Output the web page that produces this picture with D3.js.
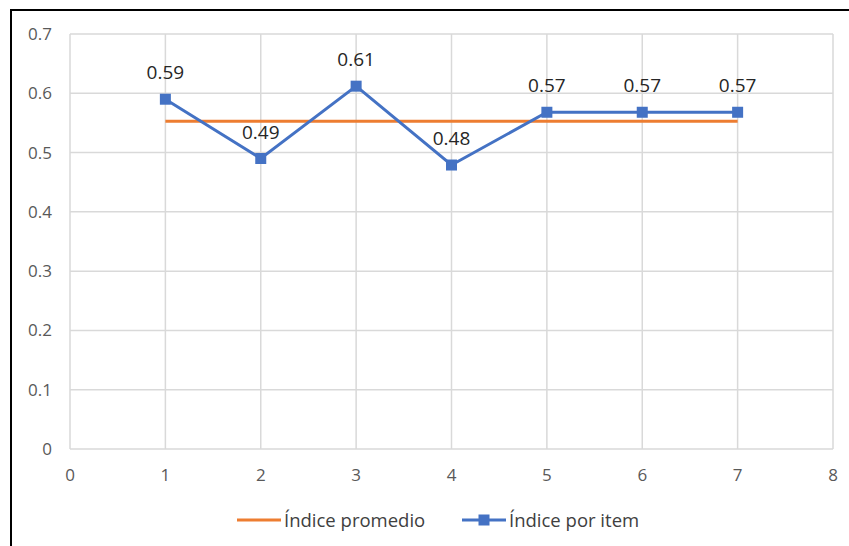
<!DOCTYPE html>
<html>
<head>
<meta charset="utf-8">
<script src="https://cdn.jsdelivr.net/npm/d3@7"></script>
<style>
  body { margin: 0; background: #fff; }
  svg text { font-family: "Open Sans", "Noto Sans", sans-serif; }
</style>
</head>
<body>
<svg id="chart" width="849" height="546"></svg>
<script>
// data
const items = [1, 2, 3, 4, 5, 6, 7];
const itemIndex = [0.59, 0.49, 0.612, 0.479, 0.568, 0.568, 0.568];
const itemLabels = ["0.59", "0.49", "0.61", "0.48", "0.57", "0.57", "0.57"];
const avgIndex = [0.553, 0.553, 0.553, 0.553, 0.553, 0.553, 0.553];
const xTicks = [0, 1, 2, 3, 4, 5, 6, 7, 8];
const yTicks = [0, 0.1, 0.2, 0.3, 0.4, 0.5, 0.6, 0.7];
const seriesNames = ["Índice promedio", "Índice por item"];

const svg = d3.select("#chart");
const blue = "#4472c4", orange = "#ed7d31";

// frame (top and left edges only visible)
svg.append("line").attr("x1", 11).attr("x2", 849).attr("y1", 10).attr("y2", 10)
  .attr("stroke", "#000").attr("stroke-width", 2);
svg.append("line").attr("x1", 11).attr("x2", 11).attr("y1", 9).attr("y2", 546)
  .attr("stroke", "#000").attr("stroke-width", 2);

const x = d3.scaleLinear().domain([0, 8]).range([70, 833]);
const y = d3.scaleLinear().domain([0, 0.7]).range([449, 34]);

// gridlines
const grid = svg.append("g");
grid.selectAll("line.h").data(yTicks).enter().append("line")
  .attr("x1", 70).attr("x2", 833)
  .attr("y1", d => y(d)).attr("y2", d => y(d))
  .attr("stroke", "#d9d9d9").attr("stroke-width", 1.5);
grid.selectAll("line.v").data(xTicks).enter().append("line")
  .attr("x1", d => x(d)).attr("x2", d => x(d))
  .attr("y1", y(0.7)).attr("y2", y(0))
  .attr("stroke", "#d9d9d9").attr("stroke-width", 1.5);

// axes labels
svg.append("g").selectAll("text").data(yTicks).enter().append("text")
  .attr("x", 52).attr("y", d => y(d) + 6)
  .attr("text-anchor", "end").attr("font-size", 17).attr("fill", "#595959")
  .text(d => d3.format("")(d));
svg.append("g").selectAll("text").data(xTicks).enter().append("text")
  .attr("x", d => x(d)).attr("y", y(0) + 32)
  .attr("text-anchor", "middle").attr("font-size", 17).attr("fill", "#595959")
  .text(d => d);

// average line
const line = d3.line().x((d, i) => x(items[i])).y(d => y(d));
svg.append("path").datum(avgIndex).attr("d", line)
  .attr("fill", "none").attr("stroke", orange).attr("stroke-width", 3);

// item index line + markers
svg.append("path").datum(itemIndex).attr("d", line)
  .attr("fill", "none").attr("stroke", blue).attr("stroke-width", 3);
svg.append("g").selectAll("rect").data(itemIndex).enter().append("rect")
  .attr("x", (d, i) => x(items[i]) - 5.5).attr("y", d => y(d) - 5.5)
  .attr("width", 11).attr("height", 11).attr("fill", blue);

// data labels
svg.append("g").selectAll("text").data(itemIndex).enter().append("text")
  .attr("x", (d, i) => x(items[i])).attr("y", d => y(d) - 20)
  .attr("text-anchor", "middle").attr("font-size", 19).attr("fill", "#262626")
  .text((d, i) => itemLabels[i]);

// legend
const legend = svg.append("g").attr("transform", "translate(0,520)");
legend.append("line").attr("x1", 237).attr("x2", 281).attr("y1", 0).attr("y2", 0)
  .attr("stroke", orange).attr("stroke-width", 3);
legend.append("text").attr("x", 284).attr("y", 7).attr("font-size", 18.5)
  .attr("fill", "#404040").text(seriesNames[0]);
legend.append("line").attr("x1", 462).attr("x2", 506).attr("y1", 0).attr("y2", 0)
  .attr("stroke", blue).attr("stroke-width", 3);
legend.append("rect").attr("x", 478.5).attr("y", -5.5).attr("width", 11).attr("height", 11)
  .attr("fill", blue);
legend.append("text").attr("x", 509).attr("y", 7).attr("font-size", 18.5)
  .attr("fill", "#404040").text(seriesNames[1]);
</script>
</body>
</html>
